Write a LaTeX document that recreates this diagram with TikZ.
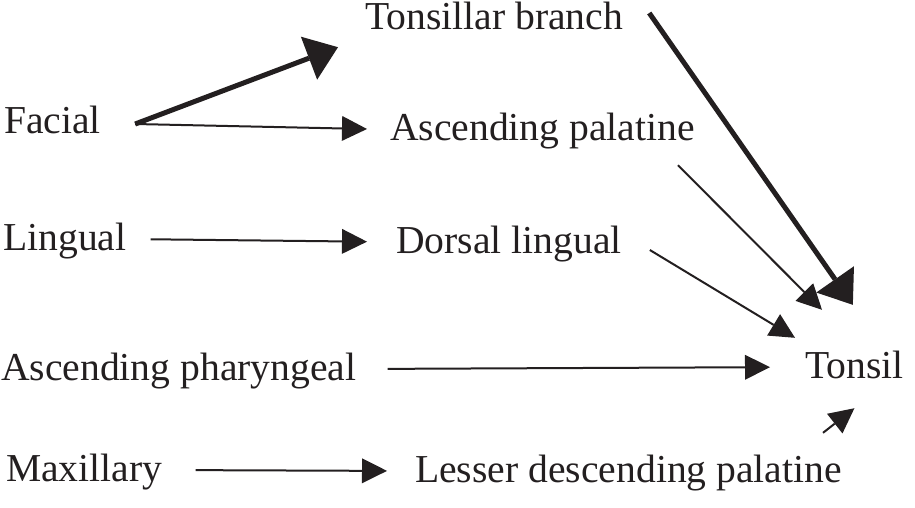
\documentclass[tikz,border=0pt]{standalone}
\usepackage{fontspec}
\setmainfont{Liberation Serif}
\usepackage{tikz}
\usetikzlibrary{arrows.meta,positioning,calc}
\usepackage{xcolor}
\definecolor{ink}{RGB}{35,31,32}
\tikzstyle{artery} = [anchor=base west, inner sep=0pt, text height=22pt, text depth=0pt, text=ink, font=\fontsize{39.6}{44}\selectfont]
\tikzstyle{thinarrow} = [line width=2pt, color=ink, -{Triangle[length=25pt,width=25pt,line width=0pt]}]
\tikzstyle{thickarrow} = [line width=5pt, color=ink, -{Triangle[length=31pt,width=46pt,line width=0pt]}]

\begin{document}
\begin{tikzpicture}[x=1pt, y=-1pt]
    \useasboundingbox (0,0) rectangle (915,507);

    % Source arteries
    \node[artery] (facial) at (4,133) {Facial};
    \node[artery] (lingual) at (3,250) {Lingual};
    \node[artery] (ph) at (1,380) {Ascending pharyngeal};
    \node[artery] (maxillary) at (6,481) {Maxillary};

    % Branches
    \node[artery] (tb) at (365,29) {Tonsillar branch};
    \node[artery] (ap) at (390,140) {Ascending palatine};
    \node[artery] (dl) at (396,253) {Dorsal lingual};
    \node[artery] (ldp) at (415,482) {Lesser descending palatine};

    % Target
    \node[artery] (tonsil) at (805,378) {Tonsil};

    % Facial splits
    \coordinate (fork) at ($(facial.east)+(34,2)$);
    \draw[thickarrow] (fork) -- ($(tb.south west)+(-27,18)$);
    \draw[thinarrow] (fork) -- ($(ap.west)+(-23,0)$);

    % Straight feeds
    \draw[thinarrow, shorten <=24pt, shorten >=29pt] (lingual.east) -- (dl.west);
    \draw[thinarrow, shorten <=31pt, shorten >=35pt] (ph.east) -- (tonsil.west);
    \draw[thinarrow, shorten <=33pt, shorten >=28pt] (maxillary.east) -- (ldp.west);

    % Into the tonsil
    \draw[thickarrow] ($(tb.east)+(26,-5)$) -- ($(tonsil.north east)+(-51,-51)$);
    \draw[thinarrow] ($(ap.south east)+(-17,25)$) -- ($(tonsil.north west)+(17,-46)$);
    \draw[thinarrow] ($(dl.east)+(28,8)$) -- ($(tonsil.north west)+(-10,-18)$);
    \draw[thinarrow] ($(ldp.north east)+(-19,-27)$) -- ($(tonsil.south)+(0,30)$);
\end{tikzpicture}
\end{document}
